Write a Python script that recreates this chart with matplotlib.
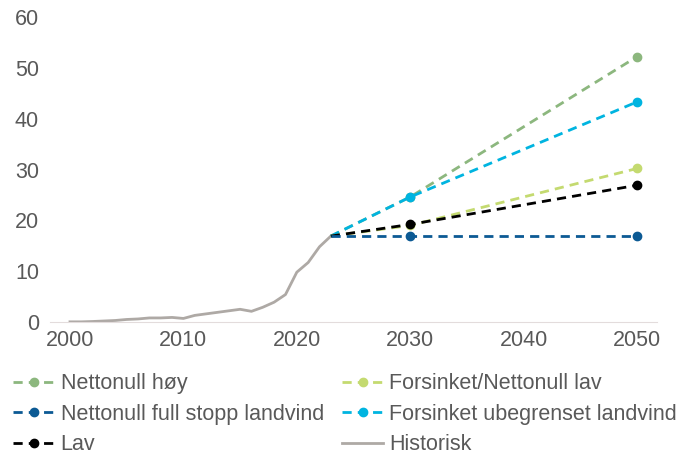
import matplotlib.pyplot as plt

plt.rcParams['font.family'] = ['Liberation Sans', 'DejaVu Sans']

# Historisk utvikling
hist_years = list(range(2000, 2024))
hist_values = [0.03, 0.03, 0.1, 0.2, 0.3, 0.5, 0.6, 0.8, 0.8, 0.9, 0.7, 1.3,
               1.6, 1.9, 2.2, 2.5, 2.1, 2.9, 3.9, 5.4, 9.8, 11.7, 14.8, 16.9]

# Scenarier (2023, 2030, 2050)
scen_years = [2023, 2030, 2050]
nettonull_hoy = [16.9, 24.6, 52.2]
full_stopp = [16.9, 16.9, 16.9]
lav = [16.9, 19.2, 26.9]
forsinket_lav = [16.9, 19.0, 30.2]
forsinket_ubegrenset = [16.9, 24.6, 43.3]

text_color = '#595959'

fig = plt.figure(figsize=(6.89, 4.57), dpi=100)
ax = fig.add_axes([0.0726, 0.2954, 0.8810, 0.6674])

hist_line, = ax.plot(hist_years, hist_values, color='#aea9a5', lw=2.0, label='Historisk')

style = dict(ls=(0, (3.3, 2.2)), lw=2.0, marker='o', ms=6, markevery=[1, 2])
l_hoy, = ax.plot(scen_years, nettonull_hoy, color='#8cb77e', label='Nettonull høy', **style)
l_ubeg, = ax.plot(scen_years, forsinket_ubegrenset, color='#00b4e0',
                  label='Forsinket ubegrenset landvind', **style)
l_flav, = ax.plot(scen_years, forsinket_lav, color='#c4da70',
                  label='Forsinket/Nettonull lav', **style)
l_lav, = ax.plot(scen_years, lav, color='#000000', label='Lav', **style)
l_stopp, = ax.plot(scen_years, full_stopp, color='#0c5a94',
                   label='Nettonull full stopp landvind', **style)

ax.set_xlim(1998.24, 2051.76)
ax.set_ylim(0, 60)
ax.set_xticks([2000, 2010, 2020, 2030, 2040, 2050])
ax.set_yticks(range(0, 61, 10))
for s in ['top', 'right', 'left']:
    ax.spines[s].set_visible(False)
ax.spines['bottom'].set_color('#e3dcdc')
ax.tick_params(length=0, labelsize=15.5, colors=text_color)
ax.tick_params(axis='y', pad=8)
ax.tick_params(axis='x', pad=6)

handles = [l_hoy, l_stopp, l_lav, l_flav, l_ubeg, hist_line]
leg = fig.legend(handles, [h.get_label() for h in handles], ncol=2,
                 loc='upper left', bbox_to_anchor=(-0.009, 0.226), frameon=False,
                 fontsize=15.5, handlelength=1.9, handletextpad=0.3,
                 columnspacing=0.85, labelspacing=0.45, numpoints=1)
for t in leg.get_texts():
    t.set_color(text_color)

fig.savefig('out.png', dpi=100)
